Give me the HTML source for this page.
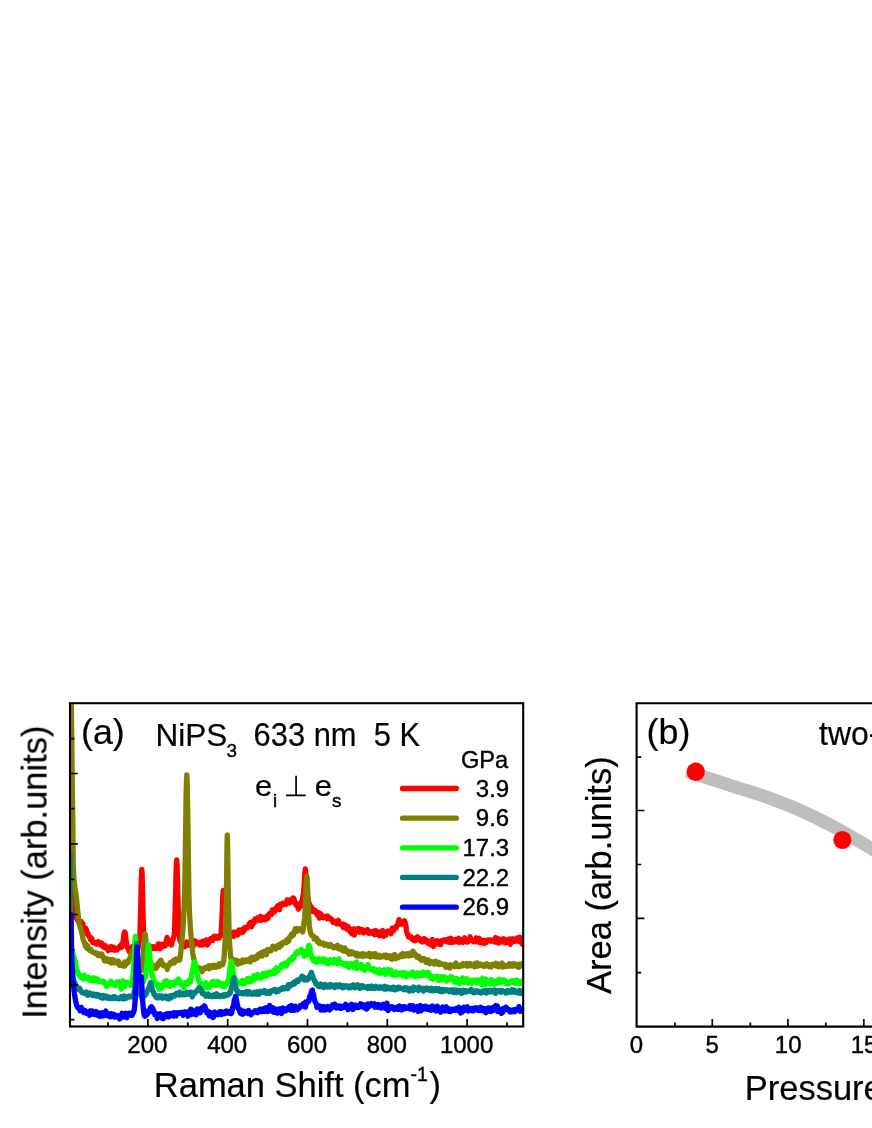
<!DOCTYPE html>
<html><head><meta charset="utf-8"><title>Raman</title>
<style>
html,body{margin:0;padding:0;background:#fff}
svg{display:block}
text{font-family:"Liberation Sans",sans-serif;fill:#000}
</style></head>
<body>
<svg width="872" height="1128" viewBox="0 0 872 1128">
<defs><filter id="soft" x="-5%" y="-5%" width="110%" height="110%"><feGaussianBlur stdDeviation="0.35"/></filter></defs>
<rect width="872" height="1128" fill="#fff"/>
<clipPath id="ca"><rect x="70.0" y="703.2" width="453.20000000000005" height="323.29999999999995"/></clipPath>
<g clip-path="url(#ca)"><polyline fill="none" stroke="#ff0000" stroke-width="5.3" stroke-linejoin="round" stroke-linecap="round" points="71.2,847.0 71.5,864.8 71.8,878.9 71.8,880.0 72.1,889.0 72.6,897.6 73.1,904.2 73.5,908.0 73.6,908.4 74.1,911.0 74.6,913.8 75.2,915.6 75.8,916.4 76.4,918.3 76.5,917.8 77.0,918.6 77.5,920.2 78.1,918.9 78.7,921.1 79.3,923.2 79.9,923.9 80.0,921.9 80.5,923.6 81.1,921.4 81.7,923.3 82.2,925.1 82.8,923.7 83.0,925.1 83.4,928.1 84.0,930.4 84.6,929.2 85.2,929.8 85.7,928.7 85.7,928.2 86.3,929.1 86.9,932.5 87.5,934.4 88.0,933.9 88.0,933.1 88.6,935.6 89.2,936.9 89.8,937.3 90.4,939.7 90.6,938.6 91.0,938.7 91.6,938.1 92.1,940.0 92.7,942.5 93.3,941.6 93.9,941.9 94.5,942.8 95.1,943.1 95.5,943.6 95.7,943.7 96.3,944.1 96.9,942.4 97.5,943.7 98.1,941.6 98.7,943.8 99.3,942.4 99.9,943.8 100.4,945.0 100.5,944.0 101.0,944.7 101.6,942.9 102.2,943.9 102.8,946.5 103.4,944.8 104.0,947.2 104.6,945.2 105.2,945.7 105.2,945.5 105.8,947.2 106.4,948.5 107.0,946.8 107.6,947.8 108.2,950.7 108.8,948.8 109.4,947.8 110.0,949.3 110.1,948.8 110.6,948.0 111.2,946.4 111.8,949.6 112.4,948.3 113.0,948.7 113.6,947.3 114.2,950.2 114.8,950.0 115.0,950.1 115.4,948.6 115.9,949.1 116.5,949.7 117.1,949.9 117.7,948.9 118.3,948.1 118.9,947.5 119.5,946.7 119.9,946.2 120.1,947.9 120.7,947.1 121.3,944.4 121.8,945.9 121.9,947.2 122.5,944.8 122.9,942.1 123.0,942.1 123.5,937.6 123.8,935.1 124.1,933.3 124.6,931.9 124.7,932.0 125.2,932.5 125.6,935.3 125.7,935.9 126.2,941.1 126.6,944.6 126.7,945.1 127.3,947.1 127.8,948.2 128.4,948.7 128.6,949.6 129.0,951.3 129.6,950.5 130.2,949.9 130.8,950.0 131.4,949.7 132.0,950.3 132.5,948.1 132.6,946.5 133.2,948.4 133.8,947.7 134.4,951.2 135.1,949.3 135.7,948.6 136.3,946.7 136.8,948.6 137.4,947.6 138.0,949.0 138.0,948.7 138.5,946.1 139.1,942.6 139.6,937.3 139.8,934.9 140.0,930.8 140.4,918.0 140.8,901.9 141.1,886.1 141.5,874.1 141.8,869.5 141.8,869.5 142.2,874.8 142.5,887.4 142.8,903.7 143.2,919.7 143.6,931.8 143.8,935.0 144.0,937.2 144.6,941.3 145.1,944.0 145.7,945.2 146.0,945.5 146.3,946.4 146.8,947.2 147.4,946.8 148.0,946.8 148.6,945.8 149.2,945.6 149.8,948.1 150.5,946.9 151.1,946.6 151.7,948.0 152.1,948.6 152.3,948.7 152.9,947.6 153.5,946.7 154.1,947.0 154.7,946.9 155.3,948.5 155.9,947.3 156.5,947.4 157.1,946.6 157.7,948.2 158.3,943.9 158.9,946.3 159.5,947.3 160.1,944.7 160.2,948.7 160.7,946.3 161.3,945.7 161.9,944.3 162.5,946.6 163.1,946.0 163.7,944.5 164.2,945.1 164.8,945.5 165.0,946.1 165.4,944.4 166.0,941.5 166.6,940.1 167.0,937.3 167.1,938.5 167.7,939.5 167.9,939.5 168.3,939.6 168.9,941.3 169.0,943.8 169.4,943.1 170.0,944.0 170.6,943.8 171.2,942.4 171.5,945.0 171.8,941.9 172.4,940.7 173.0,940.1 173.6,938.0 174.1,935.5 174.2,935.0 174.5,930.5 174.9,919.2 175.3,904.2 175.7,888.0 176.0,873.6 176.4,863.4 176.7,860.0 176.7,860.1 177.1,864.9 177.5,876.0 177.8,890.7 178.2,906.6 178.5,921.1 179.0,931.7 179.2,935.1 179.4,936.6 180.0,940.6 180.5,941.7 180.7,940.7 181.1,942.1 181.7,942.0 182.3,945.1 182.9,944.6 183.5,945.0 184.1,944.5 184.7,946.9 185.3,945.2 185.9,944.4 186.0,942.5 186.5,942.1 187.1,943.5 187.7,944.9 188.3,945.2 188.9,942.4 189.5,943.9 190.1,943.8 190.7,941.9 191.3,943.8 191.9,940.4 192.5,943.1 193.1,946.7 193.7,942.5 194.3,943.0 194.9,940.7 195.5,941.7 195.6,944.0 196.1,941.9 196.7,942.9 197.3,942.6 197.9,942.5 198.5,943.3 199.1,943.8 199.7,944.9 200.3,944.5 200.9,942.4 201.5,944.8 202.1,945.0 202.7,941.1 203.3,943.4 203.9,944.1 204.5,944.3 205.1,943.8 205.7,941.1 206.0,942.0 206.3,939.8 206.9,941.8 207.5,945.0 208.1,943.4 208.7,943.0 209.2,940.9 209.8,939.5 210.4,938.9 211.0,940.1 211.6,938.7 212.2,938.4 212.8,940.5 213.4,936.9 214.0,936.4 214.0,937.6 214.6,938.2 215.2,938.1 215.8,936.3 216.4,938.1 217.0,938.0 217.6,938.4 218.2,936.5 218.8,937.8 219.3,937.8 219.4,936.7 220.0,936.6 220.6,935.5 220.8,935.3 221.1,932.4 221.5,925.0 221.7,921.9 222.0,916.6 222.4,905.5 222.8,895.5 223.3,890.6 223.3,890.4 223.7,894.2 224.1,904.3 224.5,915.4 224.9,922.0 225.0,922.9 225.5,927.7 226.0,931.6 226.6,936.0 227.0,936.6 227.1,936.6 227.7,936.1 228.3,935.8 228.9,936.7 229.5,935.5 230.1,934.2 230.7,935.6 231.3,934.8 231.9,933.2 232.5,932.6 232.5,935.4 233.1,934.9 233.7,936.4 234.3,933.2 234.9,932.1 235.5,933.4 236.1,934.8 236.7,933.8 237.3,933.2 237.9,934.9 238.4,931.5 239.0,930.0 239.4,930.4 239.6,931.0 240.2,931.7 240.8,932.5 241.4,931.5 242.0,932.5 242.6,929.3 243.2,932.0 243.8,928.6 244.4,930.2 245.0,927.5 245.6,928.3 246.2,927.8 246.7,928.0 247.3,928.0 247.9,926.3 248.5,925.9 248.6,926.3 249.1,924.0 249.7,924.0 250.3,922.5 250.9,924.0 251.5,926.8 252.1,924.9 252.7,922.0 253.3,921.3 253.8,923.2 254.4,921.2 255.0,919.0 255.6,919.1 256.2,918.8 256.7,918.6 256.8,920.8 257.4,920.1 258.0,917.6 258.6,918.3 259.2,917.4 259.8,917.0 260.4,916.4 261.0,920.5 261.6,918.3 262.2,918.8 262.8,919.2 263.4,917.4 264.0,918.1 264.6,918.1 265.1,917.5 265.7,919.8 266.3,917.5 266.9,916.1 267.5,916.9 268.0,918.3 268.1,917.5 268.7,915.0 269.3,913.8 269.9,913.2 270.5,913.0 271.1,914.0 271.7,914.3 272.3,909.9 272.8,911.5 273.4,910.1 274.0,911.6 274.6,911.8 275.2,909.1 275.8,908.6 276.4,907.5 277.0,908.6 277.6,905.8 278.2,905.5 278.7,905.7 279.3,908.0 279.5,909.9 279.9,906.7 280.5,904.1 281.1,905.2 281.7,903.9 282.3,905.2 282.9,903.1 283.5,903.4 284.1,903.7 284.7,904.2 285.3,903.2 285.9,904.6 286.5,903.1 287.1,899.9 287.6,902.9 288.2,901.6 288.8,900.6 289.4,903.1 290.0,900.0 290.6,900.6 291.0,899.7 291.2,902.2 291.8,900.0 292.4,900.1 293.0,897.9 293.6,901.1 293.9,898.4 294.2,900.5 294.8,901.8 295.4,903.0 295.9,905.0 296.5,903.3 297.1,905.9 297.7,907.1 298.2,908.0 298.5,909.0 298.8,907.8 299.4,906.0 300.0,905.8 300.6,906.5 301.2,902.6 301.7,901.7 302.0,900.4 302.3,900.5 302.8,896.7 303.4,893.4 303.8,890.0 303.9,889.3 304.3,882.2 304.8,873.6 305.3,868.9 305.3,869.2 305.7,872.4 306.2,880.5 306.7,888.4 306.8,890.0 307.2,893.2 307.7,896.1 308.2,899.9 308.8,902.2 309.0,903.5 309.4,903.8 309.9,906.3 310.5,907.5 311.1,906.5 311.7,910.0 311.8,909.3 312.3,910.2 312.8,911.6 313.4,909.4 314.0,910.5 314.6,910.2 315.2,910.3 315.8,912.2 316.4,913.0 317.0,914.7 317.6,915.3 318.2,913.8 318.8,912.7 319.4,918.2 319.8,918.0 320.0,914.9 320.5,913.6 321.1,914.4 321.7,915.8 322.3,917.4 322.9,917.7 323.5,917.2 324.1,916.5 324.7,917.2 325.3,916.9 325.9,917.6 326.5,917.7 327.1,918.8 327.7,916.0 328.3,917.8 328.9,918.5 329.5,917.7 330.1,919.0 330.6,918.4 331.2,919.0 331.4,919.7 331.8,920.0 332.4,919.9 333.0,922.4 333.6,921.9 334.2,922.1 334.8,922.3 335.4,921.4 336.0,921.2 336.6,923.8 337.2,922.9 337.8,921.1 338.4,920.4 339.0,923.9 339.6,923.5 340.2,924.4 340.7,924.2 341.3,924.6 341.9,925.2 342.5,924.1 342.9,925.7 343.1,927.4 343.7,927.5 344.3,924.5 344.9,924.8 345.5,925.2 346.1,927.0 346.7,929.0 347.3,928.9 347.9,926.3 348.5,928.5 349.1,930.2 349.7,929.0 350.3,932.1 350.9,929.5 351.4,931.5 352.0,933.7 352.6,929.2 353.2,929.8 353.8,931.3 354.4,935.1 354.4,928.9 355.0,930.9 355.6,931.1 356.2,930.0 356.8,929.2 357.4,929.5 358.0,929.8 358.6,928.5 359.2,932.2 359.8,929.2 360.0,929.5 360.4,929.3 361.0,929.6 361.6,930.4 362.2,929.5 362.8,930.1 363.4,933.0 364.0,932.7 364.6,930.8 365.2,932.3 365.8,930.4 366.4,931.5 367.0,929.6 367.6,929.7 368.2,930.3 368.8,933.3 369.2,932.5 369.4,932.7 370.0,932.3 370.6,932.6 371.2,932.8 371.8,933.3 372.4,932.6 373.0,931.1 373.6,931.1 374.2,933.9 374.8,934.7 375.4,933.6 376.0,930.5 376.6,934.4 377.2,933.5 377.8,932.7 378.3,932.8 378.4,932.3 379.0,935.2 379.6,935.7 380.2,932.0 380.8,932.7 381.4,933.7 382.0,935.2 382.6,930.5 383.2,934.3 383.8,936.2 384.4,933.7 385.0,933.6 385.6,935.5 385.7,934.6 386.2,932.0 386.7,931.7 387.3,931.8 387.9,931.0 388.5,932.5 389.1,931.8 389.7,932.1 390.3,932.7 390.9,933.8 391.5,931.6 392.1,928.1 392.1,931.9 392.7,930.2 393.3,931.0 393.9,928.7 394.4,928.7 395.0,927.7 395.6,927.1 396.2,928.1 396.7,925.4 396.8,925.9 397.4,925.4 398.0,923.8 398.5,920.8 398.6,923.7 399.1,919.7 399.7,920.5 400.3,922.0 400.5,923.4 400.9,924.2 401.5,924.2 402.1,923.8 402.7,922.4 403.3,924.3 403.5,922.7 403.9,924.3 404.5,920.8 405.1,922.4 405.3,923.3 405.7,925.4 406.2,927.3 406.4,930.3 406.8,932.1 407.3,934.0 407.9,934.2 408.5,937.0 408.5,935.1 409.1,937.0 409.7,936.4 410.2,936.6 410.8,936.7 411.4,937.1 412.0,938.9 412.6,939.8 413.2,940.0 413.8,939.5 414.4,939.2 415.0,939.0 415.0,940.8 415.6,938.3 416.2,937.7 416.8,938.8 417.4,936.8 418.0,938.5 418.6,939.3 419.2,938.2 419.8,938.8 420.4,940.8 421.0,940.0 421.6,940.3 422.2,941.9 422.8,940.0 423.4,939.1 424.0,940.6 424.2,941.5 424.6,938.7 425.2,941.7 425.8,941.1 426.4,940.9 427.0,940.5 427.6,941.5 428.2,943.4 428.8,943.2 429.3,943.6 429.9,942.2 430.5,944.8 431.1,944.9 431.7,943.2 432.3,939.4 432.9,942.4 433.4,946.7 433.5,943.6 434.1,941.6 434.7,945.0 435.3,942.4 435.9,943.3 436.5,943.8 437.1,940.7 437.7,942.2 438.3,944.0 438.9,942.0 439.5,942.9 440.0,942.1 440.1,943.4 440.7,944.6 441.3,940.7 441.9,940.9 442.5,941.9 443.1,940.5 443.7,939.9 444.3,940.3 444.9,940.4 445.5,939.8 446.1,940.9 446.7,941.7 447.3,941.7 447.9,941.5 448.5,942.2 448.6,938.8 449.1,939.9 449.7,940.6 450.3,941.2 450.9,938.3 451.5,942.6 452.1,939.6 452.7,940.5 453.3,941.5 453.9,942.1 454.5,939.7 455.1,939.5 455.7,940.8 456.3,941.3 456.9,941.8 457.5,940.5 458.1,939.4 458.7,938.4 459.3,942.5 459.9,939.0 460.5,941.0 461.1,940.9 461.7,941.5 462.3,941.9 462.9,942.5 463.5,940.6 464.1,940.9 464.7,937.8 465.3,940.0 465.9,939.2 466.5,940.0 467.1,942.1 467.7,940.8 468.0,941.9 468.3,940.4 468.9,940.9 469.5,939.9 470.1,936.8 470.7,938.8 471.3,939.9 471.9,940.6 472.5,940.4 473.1,940.2 473.7,941.7 474.3,941.5 474.9,940.0 475.5,941.5 476.1,937.9 476.7,939.5 477.3,940.1 477.9,942.1 478.5,940.0 479.1,938.3 479.7,940.3 480.3,942.8 480.9,940.5 481.5,940.2 482.1,940.1 482.7,940.4 483.3,942.2 483.9,943.4 484.5,941.5 485.1,940.4 485.7,942.9 486.3,941.0 486.9,940.5 487.5,940.0 488.1,939.9 488.7,940.7 489.3,940.1 489.9,940.9 490.5,940.6 491.1,941.2 491.7,940.0 492.3,940.1 492.9,940.7 493.5,940.6 494.1,940.6 494.7,942.0 495.3,939.2 495.6,937.5 495.9,940.9 496.5,940.3 497.1,942.2 497.7,940.6 498.3,938.8 498.9,943.1 499.5,941.5 500.1,939.9 500.7,939.3 501.3,941.0 501.9,939.6 502.5,940.8 503.1,942.1 503.7,938.8 504.3,939.6 504.9,941.0 505.5,942.8 506.1,942.1 506.7,940.0 507.3,942.3 507.9,940.3 508.5,940.1 509.1,940.9 509.7,939.0 510.3,944.3 510.9,942.8 511.5,941.0 512.1,939.7 512.7,938.7 513.3,940.6 513.9,941.4 514.5,940.0 515.1,940.1 515.7,941.1 516.3,940.5 516.9,937.9 517.5,940.9 518.1,940.9 518.7,941.5 519.3,939.6 519.9,937.3 520.5,938.2 521.1,940.5 521.7,943.3 522.3,944.1 522.9,941.4 523.5,938.5 524.0,939.6"/>
<polyline fill="none" stroke="#808000" stroke-width="5.3" stroke-linejoin="round" stroke-linecap="round" points="71.2,690.0 71.4,709.4 71.6,728.6 71.9,747.5 72.0,760.0 72.1,766.2 72.3,784.6 72.5,802.8 72.8,820.9 72.9,830.0 73.0,839.8 73.2,859.6 73.4,868.0 73.5,871.7 74.0,878.9 74.4,883.0 74.5,884.2 75.0,888.2 75.6,891.7 76.1,895.3 76.2,896.1 76.6,899.6 77.1,904.4 77.6,909.4 78.1,914.4 78.6,919.1 79.1,922.7 79.5,925.1 79.7,926.2 80.2,926.7 80.8,929.1 80.9,929.2 81.4,931.1 81.9,933.9 82.5,936.2 83.0,938.9 83.6,940.9 83.8,941.6 84.2,941.8 84.7,943.4 85.3,946.1 85.7,943.9 85.9,947.1 86.5,946.4 87.0,948.3 87.6,945.6 88.2,947.5 88.8,949.5 89.4,949.5 90.0,950.6 90.6,949.4 90.6,949.4 91.2,949.9 91.8,951.4 92.4,952.1 93.0,952.0 93.6,952.2 94.1,952.5 94.7,953.2 95.3,952.5 95.5,953.3 95.9,953.5 96.5,953.2 97.1,953.2 97.7,955.3 98.3,953.7 98.9,954.4 99.5,955.7 100.1,955.4 100.4,954.6 100.7,955.6 101.3,953.9 101.9,954.3 102.5,955.8 103.1,956.9 103.6,957.8 104.2,960.3 104.8,961.0 105.2,959.5 105.4,959.6 106.0,958.8 106.6,960.0 107.2,958.8 107.8,961.4 108.4,960.1 109.0,961.0 109.6,959.5 110.1,961.9 110.2,961.7 110.8,963.0 111.4,961.5 112.0,959.6 112.6,960.2 113.2,960.0 113.8,962.8 114.4,961.3 115.0,961.0 115.0,962.2 115.6,962.4 116.2,962.8 116.7,962.2 117.3,960.9 117.9,961.6 118.5,961.3 119.1,964.8 119.7,965.2 119.9,964.0 120.3,964.9 120.9,965.3 121.5,965.4 122.1,965.5 122.7,965.9 123.3,965.3 123.9,963.0 124.5,962.1 124.7,966.0 125.1,965.9 125.7,962.6 126.3,964.2 126.9,963.2 127.5,962.7 127.7,960.8 128.0,962.7 128.6,961.0 129.2,959.7 129.6,958.7 129.7,958.5 130.3,957.2 130.9,954.8 131.5,953.3 131.5,952.5 132.0,952.4 132.6,951.1 133.0,949.9 133.2,951.9 133.8,952.3 134.4,950.1 134.9,951.4 135.5,954.2 136.1,955.0 136.7,958.1 137.0,958.3 137.3,959.0 137.8,960.8 138.4,962.9 139.0,963.8 139.6,966.1 140.2,967.6 140.7,969.3 141.3,969.9 141.7,970.4 141.8,969.8 142.3,966.2 142.8,960.5 143.3,954.9 143.3,954.6 143.8,947.8 144.3,939.9 144.8,934.5 145.0,933.9 145.3,934.8 145.8,939.6 146.3,945.7 146.6,949.0 146.8,950.4 147.3,955.4 147.8,959.1 148.4,961.9 148.5,962.5 148.9,962.8 149.5,964.0 150.1,964.3 150.7,964.5 151.3,965.2 151.9,966.3 152.5,965.1 153.0,965.4 153.1,965.6 153.7,966.2 154.3,968.2 154.9,967.6 155.5,967.3 155.9,967.7 156.0,968.6 156.6,966.6 157.2,967.1 157.8,963.3 158.4,963.1 158.5,965.1 159.0,964.8 159.6,962.5 160.1,960.7 160.7,961.1 161.0,960.1 161.3,961.8 161.9,962.8 162.4,963.9 163.0,963.8 163.5,965.8 163.6,965.0 164.2,965.1 164.8,965.2 165.4,965.6 166.0,966.4 166.6,967.0 167.0,967.0 167.2,969.5 167.8,966.1 168.4,966.6 169.0,964.6 169.6,964.2 170.1,962.8 170.7,964.1 171.3,963.0 171.9,962.1 172.5,961.3 173.1,961.8 173.7,960.3 173.8,960.9 174.3,963.0 174.9,960.6 175.5,959.6 176.1,959.1 176.7,960.7 177.3,960.3 177.9,959.2 178.5,958.9 179.1,959.5 179.5,958.8 179.6,960.2 180.2,957.1 180.7,953.0 181.2,948.0 181.7,942.5 181.8,941.8 182.2,937.4 182.7,931.4 183.2,924.6 183.6,917.1 184.0,908.7 184.1,907.5 184.4,898.2 184.5,896.0 184.8,884.3 185.1,866.4 185.4,846.3 185.7,825.7 185.9,806.5 186.2,790.5 186.5,779.4 186.8,775.0 186.8,775.0 187.1,778.7 187.3,789.3 187.6,805.0 187.9,824.2 188.2,845.0 188.5,865.6 188.8,884.4 189.0,896.0 189.1,899.6 189.3,907.5 189.4,911.0 189.9,919.5 190.3,926.9 190.8,933.3 191.3,939.0 191.6,942.0 191.8,944.0 192.3,948.8 192.8,953.1 193.3,956.6 193.9,959.4 194.0,959.5 194.4,961.4 195.0,963.7 195.6,965.3 196.2,966.7 196.7,966.8 197.0,968.3 197.3,967.1 197.9,968.4 198.5,968.7 199.1,967.8 199.7,967.8 200.3,969.3 200.9,968.8 201.5,968.9 202.1,971.7 202.7,969.6 203.3,968.7 203.9,969.1 204.5,967.9 205.1,968.0 205.7,968.5 206.3,967.3 206.9,967.7 207.5,967.6 208.1,967.7 208.7,965.8 209.3,968.8 209.9,967.5 210.5,967.7 211.1,966.1 211.7,965.5 211.8,966.7 212.3,966.5 212.9,967.3 213.5,965.8 214.1,965.4 214.7,966.5 215.3,967.0 215.9,967.2 216.4,966.1 217.0,966.1 217.6,965.0 218.2,966.7 218.8,966.7 219.4,966.5 219.8,963.7 220.0,965.6 220.6,964.2 221.2,964.9 221.9,964.7 222.5,964.9 223.0,963.2 223.3,962.7 223.5,961.8 224.1,957.3 224.5,950.5 225.0,942.4 225.0,942.0 225.4,932.9 225.7,920.6 226.1,906.7 226.3,896.0 226.4,892.2 226.7,872.1 226.9,850.9 227.2,836.8 227.3,835.0 227.4,837.6 227.7,852.6 228.0,874.0 228.3,893.7 228.3,896.0 228.6,908.7 228.9,923.5 229.2,936.0 229.5,942.0 229.6,944.1 230.1,950.3 230.6,955.7 231.2,959.3 231.5,960.7 231.7,960.7 232.3,959.3 232.8,960.5 233.4,962.0 234.0,959.7 234.6,960.7 235.3,962.5 235.9,962.3 236.5,960.3 237.1,961.4 237.1,962.2 237.7,964.3 238.3,962.1 238.9,961.2 239.5,962.1 240.1,962.3 240.7,962.5 241.3,963.2 241.9,961.7 242.5,960.1 243.1,961.0 243.7,961.1 244.3,961.8 244.8,961.7 245.4,959.9 246.0,960.9 246.6,961.2 247.2,959.9 247.8,960.6 248.4,959.8 248.6,959.7 249.0,959.2 249.6,959.9 250.2,961.9 250.8,959.4 251.4,957.4 252.0,957.9 252.6,957.5 253.2,958.1 253.8,957.5 254.4,959.8 255.0,958.3 255.6,958.8 256.2,956.3 256.8,956.0 257.4,958.1 258.0,954.6 258.6,955.4 259.1,953.9 259.7,956.3 260.2,953.8 260.3,954.3 260.9,954.3 261.5,952.6 262.1,956.1 262.7,953.9 263.3,955.0 263.9,952.7 264.5,951.3 265.1,952.5 265.7,952.4 266.3,954.7 266.9,951.1 267.5,949.6 268.0,950.1 268.1,951.2 268.7,951.3 269.2,949.8 269.8,949.7 270.4,950.4 271.0,950.8 271.6,949.0 272.2,949.2 272.8,946.2 273.4,947.2 274.0,948.6 274.6,948.1 275.2,947.6 275.8,949.0 276.4,947.2 277.0,945.8 277.6,946.6 278.2,946.5 278.8,944.9 279.4,946.4 279.5,947.3 279.9,945.0 280.5,944.0 281.1,944.3 281.7,945.3 282.3,943.3 282.9,942.4 283.5,942.1 284.1,942.4 284.7,942.1 285.3,941.2 285.9,942.0 286.4,942.7 287.0,939.7 287.6,940.2 288.2,939.2 288.8,941.1 289.4,937.4 290.0,936.8 290.6,936.8 291.0,935.0 291.2,935.8 291.8,936.2 292.3,933.7 292.9,934.0 293.5,935.0 294.1,932.4 294.7,931.0 295.3,928.7 295.9,930.0 296.5,928.5 297.0,930.0 297.6,931.2 298.0,930.3 298.2,928.8 298.8,930.0 299.4,929.4 300.0,928.8 300.7,929.5 301.3,930.5 301.8,930.2 302.4,931.0 302.6,932.0 303.0,930.4 303.5,927.4 304.0,922.7 304.6,917.8 304.8,915.0 305.0,911.9 305.5,902.0 305.9,890.7 306.3,881.0 306.7,876.3 306.8,876.3 307.2,879.4 307.6,888.9 308.0,900.7 308.4,911.6 308.6,915.0 308.9,919.0 309.3,925.5 309.9,929.7 310.0,930.4 310.4,931.5 310.9,933.7 311.5,935.3 312.1,935.2 312.7,935.7 313.3,935.8 313.9,937.6 314.0,939.1 314.5,938.6 315.1,937.9 315.7,938.1 316.2,938.7 316.8,938.2 317.4,941.7 318.0,941.1 318.6,940.8 319.2,943.5 319.8,942.4 320.4,943.6 321.0,942.9 321.6,943.8 322.2,943.2 322.8,942.9 323.4,943.8 324.0,944.5 324.6,945.2 325.2,944.6 325.6,944.2 325.8,944.1 326.3,944.9 326.9,944.5 327.5,944.7 328.1,945.8 328.7,946.2 329.3,946.3 329.9,945.2 330.5,944.5 331.1,946.2 331.7,946.5 332.3,946.2 332.9,946.8 333.5,947.7 334.1,946.9 334.7,947.5 335.3,946.4 335.9,947.1 336.5,946.8 337.1,946.3 337.1,948.0 337.7,945.3 338.3,947.6 338.9,949.1 339.5,949.0 340.1,947.3 340.7,948.8 341.3,947.3 341.9,948.1 342.5,950.7 343.1,950.0 343.6,951.0 344.2,949.1 344.8,947.9 345.4,949.2 346.0,951.6 346.6,951.8 347.2,952.1 347.8,951.1 348.4,951.1 348.6,951.1 349.0,954.2 349.6,952.2 350.2,953.6 350.8,952.2 351.4,953.7 352.0,951.8 352.6,952.2 353.2,953.4 353.8,952.9 354.4,953.1 355.0,953.6 355.6,953.5 356.2,955.7 356.8,955.8 357.4,953.4 358.0,956.1 358.6,955.1 359.1,954.8 359.7,954.7 360.0,955.7 360.3,955.8 360.9,954.5 361.5,954.9 362.1,953.7 362.7,956.5 363.3,954.4 363.9,953.9 364.5,954.1 365.1,954.9 365.7,955.7 366.3,954.7 366.9,954.9 367.5,954.6 368.1,956.1 368.7,955.4 369.2,953.3 369.3,956.1 369.9,955.5 370.5,956.9 371.1,954.8 371.7,954.6 372.3,955.0 372.9,953.9 373.5,954.9 374.1,956.7 374.7,956.6 375.3,953.6 375.9,956.8 376.5,956.6 377.1,957.0 377.7,956.4 378.3,956.4 378.3,956.3 378.9,956.3 379.5,955.3 380.1,957.2 380.7,956.8 381.3,956.9 381.9,956.9 382.5,956.3 383.1,956.4 383.7,955.2 384.3,956.6 384.9,956.9 385.5,956.5 386.1,954.9 386.7,957.7 387.3,956.8 387.5,956.7 387.9,956.5 388.5,956.2 389.1,956.3 389.7,955.7 390.3,956.2 390.9,958.9 391.5,958.5 392.1,959.2 392.7,956.8 393.3,955.2 393.9,955.5 394.5,954.4 395.1,957.8 395.7,958.6 396.3,957.6 396.7,957.6 396.9,957.7 397.5,957.2 398.1,957.8 398.7,956.2 399.3,956.3 399.9,956.6 400.5,954.9 401.1,955.2 401.7,956.5 402.3,956.5 402.9,953.5 403.5,956.1 404.1,956.0 404.7,956.1 405.3,955.2 405.9,955.5 405.9,953.8 406.5,954.4 407.0,953.6 407.6,953.8 408.2,955.3 408.8,955.9 409.4,954.2 410.0,953.3 410.6,954.3 411.2,954.0 411.8,955.3 412.4,954.2 413.0,951.1 413.2,952.9 413.6,953.0 414.2,952.8 414.8,954.0 415.4,954.6 416.0,954.8 416.6,957.0 416.9,956.4 417.2,956.5 417.8,956.6 418.3,957.9 418.9,956.3 419.5,958.5 420.1,957.8 420.7,959.6 421.3,960.2 421.9,959.6 422.5,958.8 423.1,959.7 423.7,960.1 424.2,958.6 424.3,959.4 424.9,959.5 425.5,961.6 426.1,962.5 426.7,960.4 427.3,960.4 427.9,959.9 428.5,961.5 429.1,962.4 429.6,963.7 430.2,961.0 430.8,962.8 431.4,962.3 432.0,961.7 432.6,962.1 433.2,961.9 433.4,963.0 433.8,962.9 434.4,964.1 435.0,962.8 435.6,961.3 436.2,962.0 436.8,963.6 437.4,962.2 438.0,962.7 438.6,964.2 439.2,962.6 439.8,964.6 440.0,964.5 440.4,963.6 441.0,964.1 441.6,963.9 442.2,964.1 442.8,964.3 443.4,964.8 444.0,964.9 444.6,964.4 445.2,964.2 445.8,967.3 446.4,964.9 447.0,965.4 447.6,967.0 448.2,967.1 448.8,965.4 449.4,967.8 450.0,968.1 450.0,966.0 450.6,964.8 451.2,966.4 451.8,965.9 452.4,965.7 453.0,965.1 453.6,965.2 454.2,965.9 454.8,966.7 455.4,963.9 456.0,963.1 456.6,966.2 457.2,965.0 457.8,966.1 458.3,965.8 458.9,966.7 459.5,966.5 460.1,965.3 460.7,965.1 461.3,965.6 461.9,966.0 462.5,964.7 463.1,963.6 463.7,965.0 464.3,965.1 464.9,964.9 465.5,964.0 466.1,965.4 466.7,963.4 466.8,964.3 467.3,966.2 467.9,964.2 468.5,965.2 469.1,965.5 469.7,965.5 470.3,963.5 470.9,965.7 471.5,965.4 472.1,965.6 472.7,965.4 473.3,965.2 473.9,966.3 474.5,966.7 475.1,963.5 475.7,964.0 476.3,964.8 476.9,962.9 477.5,966.2 478.1,964.6 478.7,965.5 479.3,965.4 479.9,964.9 480.5,964.1 481.1,964.6 481.7,965.2 482.3,965.9 482.9,965.1 483.5,964.7 484.1,964.9 484.7,966.4 485.3,965.7 485.9,964.6 486.5,963.8 487.1,964.6 487.7,964.2 488.3,964.6 488.9,966.5 489.5,966.1 490.1,965.6 490.7,965.7 491.3,967.0 491.9,964.4 492.5,965.5 493.1,965.1 493.7,965.3 494.3,965.3 494.9,964.9 495.5,965.7 495.6,963.2 496.1,965.1 496.7,966.0 497.3,964.4 497.9,964.1 498.5,966.9 499.1,964.7 499.7,964.7 500.3,964.4 500.9,964.5 501.5,964.5 502.1,963.1 502.7,967.2 503.3,964.9 503.9,965.5 504.5,965.2 505.1,966.5 505.7,966.1 506.3,966.4 506.9,966.5 507.5,966.2 508.1,965.4 508.7,966.1 509.3,963.8 509.9,965.8 510.5,966.0 511.1,965.6 511.7,963.9 512.3,966.2 512.9,964.7 513.5,965.6 514.1,963.5 514.7,964.7 515.3,964.5 515.9,964.3 516.5,964.3 517.1,966.7 517.7,965.4 518.3,965.4 518.9,967.2 519.5,964.1 520.1,966.3 520.7,965.0 521.3,964.4 521.9,964.6 522.5,963.2 523.1,963.2 523.7,963.7 524.0,964.3"/>
<polyline fill="none" stroke="#00ff00" stroke-width="5.3" stroke-linejoin="round" stroke-linecap="round" points="70.3,900.0 70.5,923.2 70.7,938.7 70.8,940.0 71.1,944.5 71.7,948.2 72.3,951.0 72.5,952.0 72.8,953.5 73.4,955.5 74.0,957.3 74.5,959.1 74.9,960.5 75.1,961.1 75.6,963.5 76.2,966.7 76.7,969.1 77.2,970.6 77.3,971.0 77.8,971.9 78.4,974.0 79.0,975.3 79.6,974.7 80.2,976.5 80.7,975.5 80.8,977.3 81.4,977.8 82.0,977.2 82.5,978.4 83.1,978.9 83.7,978.3 84.3,975.4 84.9,977.5 85.3,978.1 85.5,978.9 86.1,977.0 86.7,978.9 87.3,978.9 87.9,979.1 88.5,977.2 89.1,977.4 89.7,980.2 90.3,980.4 90.9,979.3 91.5,980.7 92.1,980.1 92.7,979.2 93.3,977.7 93.9,980.9 94.5,980.2 95.1,980.5 95.7,978.2 96.3,979.5 96.8,981.0 96.9,980.5 97.5,979.9 98.1,979.5 98.7,981.3 99.3,981.0 99.9,981.1 100.5,981.4 101.1,981.2 101.7,981.7 102.3,981.6 102.9,982.6 103.4,981.2 104.0,981.4 104.6,983.1 105.2,983.3 105.8,983.8 106.4,986.4 107.0,985.4 107.6,985.7 108.2,985.1 108.8,984.3 109.4,983.5 110.0,982.1 110.6,982.4 111.2,981.4 111.8,982.8 111.8,982.4 112.4,983.1 113.0,984.4 113.6,984.0 114.2,985.4 114.8,985.5 115.4,985.5 115.5,985.3 116.0,984.1 116.6,982.2 117.2,982.6 117.5,981.8 117.7,981.8 118.3,983.2 118.9,982.3 119.5,981.7 119.5,984.0 120.1,986.3 120.7,985.8 121.3,989.0 121.9,983.1 122.5,982.9 123.1,981.0 123.7,982.5 124.3,986.3 124.9,986.6 125.5,983.2 125.6,983.5 126.1,983.0 126.7,982.2 127.3,983.4 127.9,983.5 128.5,984.0 129.1,984.2 129.7,984.7 130.3,985.4 130.8,983.7 130.9,983.2 131.5,982.4 132.0,980.6 132.6,977.5 133.0,974.8 133.1,974.1 133.6,968.3 134.0,960.6 134.2,958.0 134.5,952.1 134.9,942.1 135.4,936.6 135.4,936.5 135.8,940.8 136.2,950.8 136.6,958.1 136.7,959.6 137.1,967.3 137.6,973.8 137.8,975.3 138.1,976.8 138.7,978.5 139.3,980.7 139.5,979.4 139.9,979.2 140.5,979.0 141.1,982.2 141.5,978.5 141.7,978.9 142.3,980.8 142.9,980.8 143.4,981.7 144.0,979.5 144.5,977.6 144.6,978.7 145.2,976.7 145.7,973.7 146.2,970.1 146.5,968.1 146.8,965.3 147.3,958.5 147.7,951.7 148.2,946.1 148.5,944.6 148.7,945.3 149.2,949.3 149.7,955.0 150.2,960.5 150.4,961.5 150.8,964.8 151.3,969.1 151.8,973.4 152.0,974.1 152.3,975.6 152.9,977.7 153.5,979.7 153.5,980.2 154.0,981.1 154.6,982.0 155.2,982.6 155.6,984.6 155.7,984.5 156.3,985.0 156.9,984.1 157.5,985.2 158.1,984.4 158.7,988.0 159.3,989.2 159.9,988.4 160.0,987.5 160.5,988.1 161.1,985.6 161.7,985.0 162.3,987.8 162.9,985.1 163.5,985.3 164.0,984.3 164.6,981.5 165.2,982.8 165.8,984.8 166.4,985.5 167.0,980.7 167.0,981.0 167.6,982.5 168.2,984.8 168.8,985.4 169.4,986.0 170.0,986.3 170.6,983.7 171.2,982.6 171.8,985.0 172.4,984.0 173.0,984.1 173.6,983.7 173.8,983.6 174.2,985.2 174.8,982.9 175.4,981.2 176.0,981.9 176.6,982.7 177.2,981.9 177.8,981.6 178.4,979.1 179.0,979.9 179.0,982.6 179.5,981.7 180.1,981.2 180.7,984.0 181.3,983.0 181.9,984.9 182.5,984.9 183.0,985.2 183.1,986.0 183.7,987.7 184.3,986.6 184.9,983.6 185.5,982.6 186.1,983.3 186.7,983.4 187.3,984.2 187.9,983.2 188.5,982.8 189.1,980.1 189.6,981.1 189.9,981.8 190.2,982.3 190.8,979.9 191.3,976.8 191.9,973.3 192.3,971.9 192.4,971.4 193.0,968.2 193.5,964.9 194.1,962.6 194.5,961.8 194.6,963.0 195.2,962.6 195.7,964.8 196.3,969.2 196.8,971.4 196.8,971.8 197.4,974.5 197.9,976.8 198.5,980.1 199.0,981.8 199.1,981.5 199.6,982.6 200.2,983.7 200.8,983.0 201.4,984.4 201.9,984.5 202.5,984.7 203.1,984.4 203.7,987.4 204.3,986.3 204.9,984.0 205.5,986.1 206.0,982.7 206.1,985.6 206.7,986.8 207.3,987.6 207.9,986.1 208.5,984.5 209.1,987.5 209.7,986.7 210.3,986.6 210.9,984.5 211.5,985.1 212.1,982.1 212.7,984.2 213.3,981.4 213.9,982.1 214.0,981.8 214.5,985.0 215.1,985.3 215.7,983.4 216.3,985.4 216.9,984.4 217.5,981.6 218.1,983.2 218.7,981.9 219.3,983.9 219.9,984.7 220.5,983.5 221.1,985.2 221.7,985.9 222.3,983.6 222.9,985.0 223.5,984.5 224.1,984.2 224.7,986.7 225.3,984.1 225.6,984.0 225.9,984.4 226.5,984.6 227.0,983.8 227.6,980.8 228.2,980.7 228.5,980.1 228.7,979.1 229.3,974.8 229.8,970.0 230.4,965.4 230.9,962.8 231.4,961.5 231.4,961.4 231.9,963.1 232.5,966.4 233.0,971.7 233.5,974.9 233.5,974.9 234.1,976.0 234.7,978.2 235.3,979.7 235.8,979.5 236.0,981.4 236.4,981.3 237.0,981.7 237.6,982.4 238.2,981.9 238.8,982.1 239.4,983.0 239.4,983.4 240.0,983.6 240.6,982.2 241.2,983.1 241.8,983.7 242.4,980.4 243.0,981.0 243.6,981.5 244.2,981.5 244.8,983.5 245.4,983.0 246.0,981.0 246.6,980.5 247.2,978.7 247.8,978.7 248.4,981.6 248.6,978.2 249.0,980.3 249.5,979.0 250.1,979.0 250.7,979.2 251.3,981.5 251.9,979.8 252.5,979.4 253.1,979.9 253.7,975.7 254.3,979.9 254.9,976.1 255.5,976.3 256.1,978.1 256.7,975.8 257.3,974.5 257.9,977.8 258.5,976.4 259.1,977.5 259.7,977.0 260.2,975.8 260.3,978.1 260.9,975.8 261.5,978.1 262.1,974.8 262.7,973.8 263.3,974.0 263.9,975.1 264.4,973.4 265.0,973.5 265.6,976.2 266.2,974.9 266.8,975.7 267.4,974.7 268.0,973.1 268.0,972.7 268.6,973.6 269.2,973.5 269.8,972.5 270.4,972.0 271.0,974.3 271.6,973.9 272.2,972.6 272.8,971.4 273.4,970.8 274.0,973.5 274.6,970.5 275.2,973.2 275.8,969.8 276.3,967.8 276.9,971.7 277.5,969.5 278.1,970.7 278.7,969.3 279.3,967.9 279.5,969.1 279.9,967.6 280.5,967.9 281.1,967.0 281.7,964.5 282.3,966.4 282.9,965.4 283.5,965.3 284.1,965.7 284.6,963.1 285.2,964.8 285.8,964.8 286.4,966.1 287.0,964.6 287.6,963.3 288.2,961.5 288.8,961.6 289.4,959.6 290.0,961.0 290.6,960.2 291.0,959.5 291.1,959.8 291.7,959.8 292.3,959.0 292.9,956.6 293.5,958.5 294.1,956.8 294.7,956.1 295.3,955.1 295.8,953.2 296.4,953.8 297.0,952.7 297.6,951.6 298.0,952.4 298.2,953.3 298.8,953.0 299.4,952.2 300.0,950.8 300.6,950.8 301.2,951.0 301.4,949.5 301.8,952.0 302.4,951.9 303.0,950.7 303.6,954.4 304.2,956.2 304.7,953.0 305.3,954.1 305.9,953.8 306.0,955.4 306.5,953.0 307.1,952.7 307.6,950.9 307.8,950.9 308.2,947.2 308.8,945.5 309.2,945.3 309.3,946.1 309.9,948.1 310.4,951.9 310.5,952.3 310.9,954.0 311.5,957.1 311.8,957.8 312.1,958.1 312.6,958.1 313.2,960.5 313.8,960.8 314.4,958.3 315.0,961.4 315.6,960.5 316.2,959.2 316.4,962.3 316.8,961.4 317.4,961.6 318.0,961.0 318.6,961.0 319.2,958.7 319.8,961.5 320.4,960.1 321.0,960.7 321.6,960.7 322.2,959.5 322.8,958.9 323.4,960.2 324.0,962.2 324.6,960.0 325.2,959.6 325.6,960.5 325.8,959.8 326.4,962.1 327.0,961.4 327.6,963.9 328.2,961.5 328.8,963.6 329.4,960.5 330.0,961.0 330.6,959.6 331.2,960.3 331.8,960.6 332.4,961.9 333.0,963.1 333.6,961.3 334.2,959.6 334.8,961.3 335.4,961.5 336.0,961.1 336.6,962.9 337.2,963.6 337.8,961.5 338.4,961.2 339.0,958.9 339.6,961.1 340.0,963.4 340.2,961.6 340.8,963.6 341.4,963.8 342.0,963.8 342.5,963.9 343.1,963.2 343.7,964.5 344.3,965.0 344.9,964.2 345.5,963.7 346.1,965.4 346.7,966.1 347.3,963.6 347.9,965.1 348.5,964.6 349.1,967.5 349.7,964.7 350.3,963.9 350.9,963.6 351.5,965.9 352.1,964.0 352.7,965.8 353.3,964.8 353.9,966.9 354.0,967.7 354.5,967.2 355.1,963.3 355.7,963.3 356.3,961.9 356.9,968.4 357.5,965.5 358.1,965.1 358.7,965.8 359.3,966.7 359.9,965.7 360.0,966.0 360.5,966.0 361.1,964.5 361.7,968.3 362.3,969.0 362.9,967.0 363.5,966.5 364.1,969.2 364.7,970.5 365.3,967.8 365.9,968.1 366.5,967.1 367.1,968.0 367.7,964.7 368.2,964.6 368.8,968.3 369.2,968.1 369.4,968.8 370.0,968.7 370.6,969.5 371.2,969.3 371.8,968.8 372.4,969.7 373.0,968.6 373.6,971.1 374.2,968.7 374.8,969.1 375.4,971.0 376.0,969.9 376.6,971.4 377.2,972.5 377.8,971.9 378.3,970.2 378.4,973.0 379.0,971.8 379.6,969.7 380.2,973.3 380.8,971.7 381.4,971.9 382.0,972.5 382.6,970.8 383.2,972.4 383.8,970.0 384.4,970.0 385.0,970.9 385.6,974.3 386.2,973.0 386.8,973.5 387.4,971.6 387.5,972.5 388.0,969.5 388.6,971.4 389.2,972.8 389.8,971.8 390.4,969.9 391.0,970.2 391.6,973.3 392.2,974.8 392.7,972.9 393.3,975.2 393.9,972.1 394.5,974.0 395.1,974.1 395.7,975.1 396.3,972.1 396.7,974.8 396.9,974.2 397.5,972.9 398.1,973.3 398.7,973.7 399.3,974.5 399.9,973.2 400.5,973.0 401.1,974.3 401.7,974.4 402.3,975.1 402.9,975.8 403.5,972.4 404.1,974.1 404.7,974.9 405.3,974.8 405.9,973.3 405.9,975.3 406.5,977.0 407.1,974.8 407.7,973.6 408.3,975.5 408.9,974.8 409.5,974.8 410.1,975.0 410.7,974.1 411.3,974.5 411.9,973.7 412.5,972.0 413.1,975.5 413.7,975.2 414.3,974.6 414.9,976.3 415.0,974.7 415.5,976.0 416.1,975.9 416.7,974.5 417.3,973.0 417.9,975.0 418.5,975.1 419.1,976.1 419.7,973.0 420.3,974.3 420.9,975.1 421.5,975.3 422.1,975.1 422.7,975.3 423.3,972.0 423.9,974.1 424.2,974.1 424.5,972.9 425.1,974.9 425.7,974.7 426.3,973.6 426.9,973.3 427.5,975.5 428.1,972.3 428.7,974.9 429.3,974.2 429.9,975.7 430.5,978.4 431.1,977.7 431.7,976.3 432.3,978.1 432.9,979.1 433.4,978.1 433.5,979.0 434.1,977.2 434.7,977.5 435.3,976.8 435.9,976.4 436.5,976.9 437.1,976.1 437.7,976.9 438.3,980.2 438.9,978.9 439.5,977.5 440.0,979.8 440.1,979.9 440.7,976.7 441.3,976.7 441.9,980.0 442.4,978.5 443.0,978.4 443.6,977.5 444.2,976.7 444.8,979.6 445.4,977.7 446.0,979.0 446.6,981.1 447.2,979.8 447.8,978.6 448.4,979.6 449.0,979.8 449.6,978.5 450.0,979.3 450.2,977.6 450.8,976.6 451.4,978.1 452.0,976.9 452.6,978.2 453.2,979.2 453.8,979.8 454.4,982.1 455.0,979.0 455.6,979.0 456.2,979.2 456.8,978.6 457.4,982.5 458.0,979.6 458.6,979.8 459.2,980.1 459.8,983.5 460.4,980.7 461.0,979.5 461.6,982.1 462.2,980.1 462.8,977.9 463.4,981.8 464.0,982.4 464.6,979.3 465.2,979.1 465.8,980.7 466.4,979.8 467.0,978.9 467.6,979.3 468.0,983.2 468.2,983.0 468.8,980.1 469.4,980.8 470.0,981.3 470.6,980.8 471.2,981.1 471.8,983.5 472.4,980.9 473.0,980.1 473.6,981.1 474.2,980.4 474.8,980.6 475.4,980.7 476.0,980.0 476.6,982.7 477.2,980.8 477.8,983.0 478.4,980.6 479.0,980.0 479.6,981.5 480.2,981.1 480.8,982.5 481.4,982.5 482.0,984.6 482.6,978.2 483.2,979.4 483.8,981.2 484.0,981.2 484.4,981.4 485.0,984.9 485.6,979.2 486.2,982.0 486.8,981.5 487.4,981.6 488.0,983.1 488.6,981.9 489.2,982.7 489.8,983.6 490.4,983.6 491.0,979.6 491.6,980.5 492.2,980.0 492.8,980.5 493.4,981.4 494.0,984.6 494.6,981.5 495.2,981.3 495.6,981.6 495.8,983.8 496.4,981.5 497.0,982.4 497.6,983.1 498.2,982.9 498.8,979.4 499.4,979.7 500.0,982.5 500.6,979.8 501.2,981.2 501.8,979.9 502.4,982.1 503.0,982.0 503.6,979.9 504.2,981.2 504.8,980.5 505.4,980.9 506.0,983.4 506.6,982.6 507.2,982.4 507.8,984.0 508.4,982.4 509.0,983.7 509.6,982.8 510.2,982.4 510.8,981.6 511.4,980.8 512.0,980.4 512.6,980.5 513.2,982.5 513.8,982.6 514.4,981.0 515.0,983.4 515.6,981.4 516.2,981.3 516.8,980.1 517.4,980.6 518.0,983.0 518.6,982.8 519.2,981.3 519.8,983.5 520.4,982.2 521.0,982.1 521.6,983.4 522.2,982.9 522.8,981.7 523.4,980.6 524.0,983.5 524.0,979.3"/>
<polyline fill="none" stroke="#008080" stroke-width="5.3" stroke-linejoin="round" stroke-linecap="round" points="70.1,853.0 70.1,888.6 70.1,917.7 70.2,938.9 70.2,940.0 70.4,953.5 70.9,963.5 71.0,965.0 71.4,968.8 71.9,972.7 72.4,975.6 73.0,978.0 73.0,978.0 73.6,980.1 74.1,981.8 74.7,983.0 74.9,983.2 75.3,983.9 75.9,985.2 76.4,985.6 77.0,988.0 77.6,988.1 78.2,988.6 78.8,989.5 79.4,988.4 79.5,988.1 80.0,989.2 80.6,990.5 81.1,991.1 81.7,992.4 82.3,992.8 82.9,992.8 83.5,993.1 84.1,992.7 84.7,993.4 85.3,992.7 85.3,992.4 85.9,993.7 86.5,991.9 87.1,994.3 87.7,995.3 88.3,993.5 88.9,994.3 89.5,994.1 90.1,993.1 90.7,994.2 91.3,994.7 91.9,995.2 92.5,994.2 93.1,994.5 93.7,994.1 94.3,995.4 94.9,994.8 95.5,995.6 96.1,994.5 96.7,995.1 96.8,994.3 97.3,994.4 97.9,996.1 98.5,995.4 99.1,995.5 99.6,996.3 100.2,995.3 100.8,997.5 101.4,995.8 102.0,995.8 102.6,998.2 103.2,995.4 103.8,998.0 104.4,997.5 105.0,997.5 105.6,996.3 106.2,997.3 106.8,996.3 107.4,998.2 108.0,997.5 108.6,997.1 109.2,997.3 109.8,997.7 110.4,998.7 111.0,998.4 111.6,997.4 112.2,997.2 112.8,997.0 112.9,998.6 113.4,998.6 114.0,997.2 114.6,996.5 115.2,997.7 115.8,997.5 116.4,998.3 117.0,997.9 117.6,998.2 118.2,998.7 118.8,998.9 119.4,997.8 120.0,998.4 120.6,997.4 121.2,996.6 121.8,997.7 122.4,998.7 123.0,999.0 123.6,997.7 124.2,996.0 124.8,997.5 125.4,997.3 125.6,997.9 126.0,998.4 126.6,997.1 127.2,996.6 127.8,996.8 128.4,996.5 129.0,996.1 129.6,997.0 130.2,996.3 130.8,996.4 131.4,996.3 132.0,995.8 132.5,996.6 132.6,995.9 133.1,995.3 133.7,994.1 134.3,991.6 134.6,989.8 134.8,988.5 135.3,982.3 135.7,975.0 135.7,974.5 136.1,962.6 136.5,949.5 136.9,943.4 136.9,943.4 137.3,949.8 137.7,963.0 138.1,974.7 138.1,975.0 138.5,982.6 139.0,988.9 139.2,990.1 139.5,991.2 140.1,993.3 140.7,995.2 141.3,997.0 141.9,996.8 142.0,996.3 142.4,997.1 143.0,996.8 143.6,995.8 144.2,994.7 144.8,994.8 145.4,995.2 146.0,993.3 146.0,992.6 146.6,993.4 147.2,991.1 147.8,989.8 148.3,989.1 148.5,988.8 148.9,987.8 149.5,985.7 150.0,984.1 150.5,983.2 150.6,982.8 151.2,983.0 151.7,987.6 152.3,990.3 152.5,990.9 152.8,991.4 153.4,992.2 154.0,994.3 154.6,995.1 155.2,994.8 155.6,996.8 155.7,995.1 156.3,995.7 156.9,997.9 157.5,996.2 158.1,996.7 158.7,997.7 159.3,997.0 159.9,995.8 160.5,996.4 161.1,997.0 161.7,995.9 162.3,998.2 162.9,997.8 163.5,998.0 164.1,997.7 164.7,997.7 165.3,997.1 165.9,996.1 166.5,997.8 167.0,997.5 167.1,998.7 167.7,996.6 168.3,997.3 168.9,999.0 169.5,996.2 170.1,995.7 170.7,996.7 171.3,997.9 171.9,995.5 172.5,995.8 173.1,995.6 173.7,995.0 174.3,994.9 174.9,996.0 175.5,995.0 176.1,993.5 176.7,993.6 177.3,994.2 177.9,992.9 178.4,993.2 179.0,993.4 179.5,992.0 179.6,995.1 180.2,992.8 180.8,993.7 181.4,993.7 182.0,993.3 182.6,994.8 183.2,994.1 183.8,993.2 184.5,994.7 185.1,994.5 185.7,993.1 186.3,992.4 186.9,994.4 187.5,993.9 188.1,992.6 188.7,994.1 189.3,992.7 189.9,993.1 190.5,993.1 191.1,992.1 191.7,994.2 192.3,997.0 192.8,994.9 193.3,994.3 193.4,993.7 194.0,993.5 194.6,993.3 195.2,993.0 195.8,991.4 196.4,991.0 196.5,990.7 197.0,990.8 197.6,990.4 198.2,989.7 198.7,987.9 199.3,987.5 199.3,988.4 199.9,988.2 200.5,989.1 201.1,990.8 201.7,991.8 202.0,993.0 202.2,991.4 202.8,993.5 203.4,993.2 204.0,994.4 204.6,993.4 205.2,994.4 205.8,994.4 206.0,996.4 206.4,994.5 207.0,995.9 207.6,994.6 208.2,994.1 208.8,995.3 209.4,996.2 210.0,995.4 210.6,995.9 211.2,995.7 211.8,995.4 212.4,996.7 213.0,995.7 213.6,996.3 214.2,994.7 214.8,995.3 215.4,996.4 216.0,995.4 216.6,993.8 217.2,996.0 217.8,996.3 218.4,995.5 219.0,995.7 219.6,995.4 219.8,996.0 220.2,996.7 220.8,996.1 221.4,995.6 222.0,995.2 222.6,995.4 223.2,995.1 223.8,996.3 224.4,994.7 225.0,994.7 225.6,995.5 226.2,995.5 226.8,995.3 227.4,994.6 228.0,994.9 228.6,993.5 229.0,993.1 229.1,993.3 229.7,993.7 230.3,993.0 230.9,990.1 231.4,988.0 231.5,987.9 232.0,986.5 232.5,982.7 233.1,979.5 233.6,977.6 233.7,978.0 234.2,979.3 234.7,981.5 235.3,984.3 235.8,987.9 236.0,988.1 236.4,990.1 237.0,990.3 237.5,991.8 238.1,993.0 238.3,991.5 238.7,992.7 239.3,993.5 239.9,993.0 240.5,993.4 241.1,993.3 241.7,992.5 242.3,993.7 242.9,992.7 243.5,992.9 244.1,992.6 244.7,993.7 245.3,993.0 245.9,992.8 246.5,991.4 247.1,992.8 247.7,994.1 248.3,991.7 248.6,993.3 248.9,993.3 249.5,991.8 250.1,992.7 250.7,994.0 251.3,993.4 251.9,993.5 252.5,994.2 253.1,993.1 253.7,993.8 254.3,992.2 254.9,992.2 255.5,994.1 256.1,994.3 256.7,993.9 257.3,991.7 257.9,992.4 258.5,992.0 259.1,994.2 259.7,991.8 260.3,991.3 260.9,991.8 261.5,992.6 262.1,991.9 262.7,992.0 263.3,992.4 263.9,992.2 264.5,990.5 265.1,990.7 265.7,993.1 266.3,992.1 266.9,993.3 267.5,993.2 268.0,992.8 268.1,991.9 268.7,992.9 269.3,991.3 269.9,993.2 270.5,992.1 271.1,991.8 271.7,990.9 272.3,990.5 272.9,990.6 273.4,990.3 274.0,989.9 274.6,989.5 275.2,990.4 275.8,991.3 276.4,992.0 277.0,990.9 277.6,989.9 278.2,990.2 278.8,991.1 279.4,989.8 279.5,990.3 280.0,989.8 280.6,989.3 281.2,988.5 281.8,989.3 282.4,988.1 283.0,987.5 283.6,988.4 284.2,989.0 284.8,988.8 285.4,988.6 286.0,987.4 286.6,987.1 287.2,988.0 287.8,988.7 288.4,984.7 289.0,987.0 289.6,986.5 290.2,985.8 290.7,984.9 291.0,984.8 291.3,984.2 291.9,985.0 292.5,983.8 293.1,983.8 293.7,982.4 294.3,984.0 294.9,983.5 295.5,981.4 296.1,982.0 296.7,981.0 297.2,980.0 297.8,980.3 298.0,980.9 298.4,981.2 299.0,979.7 299.6,979.6 300.2,978.8 300.8,978.2 301.4,978.1 302.0,976.1 302.0,976.6 302.6,978.4 303.2,976.7 303.8,977.2 304.3,980.1 304.9,978.6 305.5,979.4 306.0,979.8 306.1,979.4 306.7,980.1 307.3,979.7 307.9,977.9 308.5,978.9 309.0,976.7 309.1,976.5 309.7,975.9 310.2,975.2 310.8,973.4 311.2,974.1 311.4,972.5 312.0,974.4 312.6,975.8 313.1,977.3 313.2,977.9 313.7,979.3 314.3,980.1 314.9,981.8 315.2,981.3 315.4,982.2 316.0,984.1 316.6,983.8 317.2,984.5 317.8,985.3 318.4,986.5 319.0,986.6 319.6,986.3 319.8,985.5 320.2,986.4 320.8,984.0 321.4,986.3 322.0,985.8 322.5,986.8 323.1,986.4 323.7,987.4 324.3,985.9 324.9,984.5 325.5,986.0 326.1,985.8 326.7,986.0 327.3,987.1 327.9,985.5 328.5,986.5 329.1,986.9 329.7,987.1 330.3,984.5 330.9,985.8 331.5,985.4 332.2,985.7 332.8,985.2 333.4,985.5 334.0,986.6 334.6,987.5 335.2,986.7 335.8,984.9 336.4,986.7 337.0,985.0 337.1,985.4 337.6,986.7 338.2,985.5 338.8,986.4 339.4,985.8 340.0,984.9 340.6,985.9 341.2,985.5 341.8,987.4 342.4,987.8 343.0,987.6 343.6,985.5 344.2,987.5 344.8,986.7 345.4,986.6 346.0,986.5 346.6,985.8 347.1,986.3 347.7,987.1 348.3,987.8 348.6,987.1 348.9,986.5 349.5,986.0 350.1,986.1 350.7,987.8 351.3,987.3 351.9,986.9 352.5,985.3 353.1,984.9 353.7,987.0 354.3,987.3 354.9,987.8 355.5,987.1 356.1,986.3 356.7,985.4 357.3,985.9 357.9,984.9 358.5,986.9 359.1,987.5 359.7,988.3 360.3,985.8 360.9,985.7 361.5,987.5 362.1,987.6 362.7,985.7 363.3,986.4 363.9,987.3 364.5,987.1 365.1,987.7 365.7,987.5 366.3,987.0 366.9,987.7 367.5,987.5 368.0,988.5 368.1,986.5 368.7,987.2 369.3,987.0 369.9,987.3 370.5,987.9 371.1,988.3 371.7,986.0 372.3,988.4 372.9,988.3 373.5,988.3 374.1,987.9 374.7,988.6 375.3,988.3 375.9,986.3 376.5,987.0 377.1,987.5 377.7,987.5 378.3,987.4 378.9,988.3 379.5,987.0 380.1,987.1 380.7,987.0 381.3,987.8 381.9,988.3 382.5,987.3 383.1,988.2 383.7,987.6 384.3,989.1 384.9,986.3 385.5,987.7 386.1,989.0 386.7,987.9 387.3,987.1 387.9,987.2 388.5,988.4 389.1,987.7 389.7,988.9 390.3,988.3 390.9,987.7 391.0,987.7 391.5,988.5 392.1,989.1 392.7,987.7 393.3,987.1 393.9,987.1 394.5,988.5 395.1,989.9 395.7,988.1 396.3,988.8 396.9,988.1 397.5,989.0 398.1,987.2 398.7,988.6 399.3,987.3 399.9,987.4 400.5,988.5 401.1,988.2 401.7,988.3 402.3,988.8 402.9,988.7 403.5,989.7 404.1,989.3 404.7,987.8 405.3,988.3 405.9,988.0 406.5,988.1 407.1,990.0 407.7,988.1 408.3,989.5 408.9,990.0 409.5,991.1 410.1,989.0 410.7,988.8 411.3,988.9 411.9,988.4 412.5,990.1 413.1,990.6 413.7,987.0 414.0,988.1 414.3,989.7 414.9,988.0 415.5,988.0 416.1,988.7 416.7,988.8 417.3,988.6 417.9,988.7 418.5,990.4 419.1,987.2 419.7,988.1 420.3,987.9 420.9,989.0 421.5,988.6 422.1,989.4 422.7,989.1 423.3,991.1 423.9,988.3 424.5,988.5 425.1,989.9 425.7,989.0 426.3,989.3 426.9,988.0 427.5,989.7 428.1,989.4 428.7,989.9 429.3,988.7 429.9,988.8 430.5,988.7 431.1,990.8 431.7,988.3 432.3,989.7 432.9,989.9 433.5,990.8 434.1,990.1 434.7,988.9 435.3,990.0 435.9,988.4 436.5,990.5 437.0,989.9 437.1,989.2 437.7,989.4 438.3,990.4 438.9,988.6 439.5,991.2 440.1,989.7 440.7,991.3 441.3,990.5 441.9,991.8 442.5,989.4 443.1,990.8 443.7,990.4 444.3,989.8 444.9,991.0 445.5,990.3 446.1,989.8 446.7,990.2 447.3,989.9 447.9,990.3 448.5,990.6 449.1,991.6 449.7,990.8 450.3,990.1 450.9,991.4 451.5,990.7 452.1,990.0 452.7,989.8 453.3,992.3 453.9,991.2 454.5,992.4 455.1,990.5 455.7,990.1 456.3,992.5 456.9,991.3 457.5,991.0 458.1,991.1 458.7,990.4 459.3,992.1 459.8,990.5 460.4,991.9 461.0,990.6 461.6,993.5 462.2,992.5 462.8,992.5 463.4,990.2 464.0,991.6 464.6,991.0 465.2,990.7 465.8,990.7 466.4,992.1 466.8,991.7 467.0,991.1 467.6,990.9 468.2,990.9 468.8,991.0 469.4,991.2 470.0,990.5 470.6,990.6 471.2,989.5 471.8,991.2 472.4,992.0 473.0,991.2 473.6,992.7 474.2,991.1 474.8,991.4 475.4,992.5 476.0,991.9 476.6,990.9 477.2,991.7 477.8,991.2 478.4,992.4 479.0,992.4 479.6,991.5 480.2,992.0 480.8,993.1 481.4,992.8 482.0,992.5 482.6,991.5 483.2,991.0 483.8,990.8 484.4,992.3 485.0,990.8 485.6,991.7 486.2,993.0 486.8,990.4 487.4,991.6 488.0,990.7 488.6,991.3 489.2,992.0 489.8,990.8 490.4,990.3 491.0,991.0 491.6,991.7 492.2,991.2 492.8,990.7 493.4,992.0 494.0,990.7 494.6,990.1 495.2,991.4 495.6,993.4 495.8,991.4 496.4,991.4 497.0,990.7 497.6,990.9 498.2,990.5 498.8,991.6 499.4,991.0 500.0,990.7 500.6,992.2 501.2,990.4 501.8,992.1 502.4,991.5 503.0,990.7 503.6,991.3 504.2,991.2 504.8,991.7 505.4,991.3 506.0,993.0 506.6,992.6 507.2,992.5 507.8,990.5 508.4,990.9 509.0,992.4 509.6,992.1 510.2,991.5 510.8,991.3 511.4,992.2 512.0,989.8 512.6,990.3 513.2,990.0 513.8,992.1 514.4,990.2 515.0,990.8 515.6,992.3 516.2,991.2 516.8,991.4 517.4,991.2 518.0,991.7 518.6,993.1 519.2,990.4 519.8,990.9 520.4,992.5 521.0,993.4 521.6,991.2 522.2,992.2 522.8,991.8 523.4,991.6 524.0,989.8"/>
<polyline fill="none" stroke="#0000ff" stroke-width="5.3" stroke-linejoin="round" stroke-linecap="round" points="71.2,915.0 71.4,936.6 71.6,950.0 71.6,952.0 72.0,962.3 72.5,970.3 72.6,972.0 72.9,977.5 73.4,983.9 73.9,989.2 74.0,990.0 74.4,993.6 75.0,997.4 75.5,1000.4 75.6,1001.0 76.0,1002.5 76.6,1005.5 77.2,1005.8 77.5,1007.0 77.8,1007.8 78.3,1008.1 78.9,1007.2 79.5,1009.5 80.0,1010.8 80.1,1010.0 80.7,1010.0 81.3,1007.4 81.9,1008.7 82.5,1010.4 83.1,1011.4 83.7,1012.5 84.0,1011.3 84.3,1011.7 84.9,1010.4 85.5,1012.5 86.1,1013.1 86.7,1012.1 87.3,1013.5 87.9,1012.2 88.5,1011.7 89.0,1012.0 89.6,1015.3 90.2,1010.9 90.8,1012.6 91.0,1012.4 91.4,1012.9 92.0,1010.9 92.6,1013.6 93.2,1014.1 93.8,1012.9 94.4,1012.5 95.0,1013.2 95.6,1014.6 96.2,1011.5 96.8,1015.0 97.4,1013.4 98.0,1014.6 98.6,1012.7 99.2,1016.1 99.8,1014.6 100.4,1016.3 101.0,1013.4 101.6,1012.9 102.2,1015.4 102.6,1015.3 102.8,1014.7 103.4,1015.9 104.0,1015.2 104.6,1014.0 105.2,1011.8 105.8,1011.0 106.4,1015.1 107.0,1015.8 107.6,1013.9 108.2,1015.6 108.8,1015.1 109.4,1015.4 110.0,1016.8 110.6,1013.7 111.2,1015.8 111.8,1016.5 112.4,1015.7 113.0,1016.0 113.6,1014.3 114.0,1015.8 114.2,1016.8 114.8,1017.1 115.4,1015.1 116.0,1016.8 116.6,1016.4 117.2,1016.8 117.8,1015.8 118.4,1016.5 119.0,1016.1 119.6,1019.0 120.2,1015.7 120.8,1017.0 121.4,1015.7 122.0,1013.3 122.6,1015.6 123.2,1017.1 123.3,1016.6 123.8,1016.5 124.4,1014.3 125.0,1015.4 125.6,1013.3 126.2,1017.2 126.8,1017.7 127.4,1014.0 128.0,1014.3 128.6,1013.2 129.2,1013.7 129.8,1014.2 130.4,1013.2 131.0,1013.9 131.4,1015.5 131.6,1014.5 132.2,1015.2 132.8,1013.6 133.4,1012.7 133.9,1010.6 134.3,1010.2 134.4,1009.1 134.9,1003.6 135.4,994.8 135.8,985.5 135.8,985.0 136.2,973.5 136.5,959.2 136.9,948.8 137.1,947.2 137.3,948.7 137.8,956.4 138.2,966.3 138.6,972.1 138.7,973.2 139.2,977.9 139.8,980.1 139.8,979.2 140.3,978.9 140.9,977.6 141.2,976.6 141.4,978.2 141.9,985.6 142.3,995.7 142.6,1000.2 142.8,1002.5 143.3,1008.2 143.8,1013.1 144.2,1015.0 144.3,1015.9 144.9,1016.3 145.5,1015.9 146.1,1013.0 146.8,1013.7 147.0,1014.7 147.4,1014.2 147.9,1010.9 148.5,1012.0 149.1,1010.8 149.5,1011.2 149.7,1011.2 150.3,1007.9 150.9,1007.2 151.4,1007.8 151.5,1006.6 152.0,1007.9 152.6,1008.2 153.2,1009.6 153.8,1012.7 154.0,1012.1 154.3,1011.7 154.9,1014.8 155.5,1013.4 156.1,1013.8 156.7,1014.4 157.3,1018.7 157.9,1016.4 157.9,1016.1 158.5,1014.6 159.1,1016.0 159.7,1016.8 160.3,1013.8 160.9,1015.5 161.5,1017.6 162.1,1018.2 162.7,1016.1 163.3,1018.6 163.9,1015.0 164.5,1016.7 165.1,1016.5 165.7,1014.2 166.3,1016.6 166.9,1014.0 167.0,1014.3 167.5,1015.2 168.1,1013.8 168.7,1016.8 169.3,1015.0 169.9,1013.5 170.5,1015.3 171.1,1015.2 171.7,1013.5 172.3,1013.9 172.9,1015.9 173.5,1016.1 174.1,1012.6 174.7,1015.4 175.3,1015.9 175.9,1016.0 176.5,1013.7 177.0,1012.8 177.6,1013.6 178.2,1012.9 178.8,1013.2 179.4,1012.7 179.5,1013.1 180.0,1012.8 180.6,1013.4 181.2,1013.6 181.8,1013.0 182.4,1012.4 183.0,1015.3 183.6,1014.8 184.2,1013.9 184.8,1011.9 185.4,1013.5 186.0,1012.8 186.6,1013.5 187.2,1013.2 187.8,1016.2 188.4,1013.3 189.0,1011.2 189.6,1013.8 190.2,1014.4 190.8,1014.6 191.0,1009.2 191.4,1010.6 192.0,1011.2 192.6,1010.1 193.2,1012.3 193.8,1013.5 194.4,1014.2 195.0,1014.1 195.6,1012.9 196.2,1014.8 196.8,1013.4 197.4,1008.9 198.0,1011.5 198.0,1011.5 198.6,1012.8 199.2,1011.6 199.8,1011.1 200.4,1012.8 201.0,1009.8 201.5,1008.0 201.6,1010.0 202.2,1010.3 202.7,1008.7 203.3,1008.1 203.9,1007.0 204.3,1005.8 204.5,1006.4 205.1,1006.6 205.7,1010.3 206.3,1010.0 206.8,1012.7 207.4,1012.0 207.5,1010.8 208.0,1012.6 208.6,1013.5 209.2,1015.7 209.8,1012.2 210.4,1014.1 211.0,1016.0 211.6,1014.8 211.8,1015.7 212.2,1015.4 212.7,1017.5 213.3,1017.4 213.9,1012.5 214.5,1012.1 215.1,1012.9 215.7,1013.8 216.0,1013.7 216.3,1013.1 216.9,1014.3 217.5,1014.8 218.1,1013.6 218.7,1012.7 219.3,1012.9 219.8,1011.7 219.9,1013.8 220.5,1014.2 221.1,1011.7 221.7,1014.5 222.3,1013.0 222.9,1013.8 223.5,1012.9 224.1,1012.4 224.7,1013.6 225.3,1011.5 225.9,1012.1 226.5,1010.9 227.1,1013.0 227.7,1012.4 228.3,1012.0 228.9,1011.7 229.5,1013.2 230.1,1012.9 230.2,1012.1 230.7,1011.5 231.3,1013.5 231.8,1012.3 232.4,1008.2 232.8,1008.8 233.0,1007.9 233.5,1004.9 234.1,1001.9 234.2,1000.1 234.6,1000.3 235.2,998.0 235.4,996.3 235.7,996.6 236.3,999.4 236.8,1001.6 236.8,1002.4 237.4,1004.9 237.9,1006.8 238.5,1008.9 238.5,1008.8 239.1,1009.8 239.6,1011.1 240.2,1013.0 240.6,1011.9 240.8,1010.0 241.4,1013.9 242.0,1011.9 242.6,1014.2 243.2,1013.0 243.8,1013.2 244.4,1011.3 245.0,1012.3 245.6,1011.8 246.2,1012.2 246.8,1013.0 247.4,1011.9 248.0,1013.4 248.6,1010.6 248.6,1010.5 249.2,1012.7 249.8,1013.1 250.4,1013.9 251.0,1014.7 251.6,1013.1 252.2,1013.2 252.8,1012.5 253.4,1012.1 254.0,1011.6 254.6,1011.7 255.2,1010.7 255.8,1011.0 256.4,1012.3 257.0,1012.0 257.6,1012.7 258.2,1010.5 258.8,1010.2 259.4,1011.2 260.0,1009.5 260.2,1009.1 260.6,1011.2 261.2,1010.2 261.8,1011.5 262.4,1010.7 263.0,1009.7 263.6,1008.7 264.2,1011.5 264.8,1010.3 265.4,1008.8 266.0,1007.7 266.6,1007.9 267.2,1009.1 267.8,1011.5 268.0,1009.0 268.4,1010.1 269.0,1010.3 269.6,1005.4 270.2,1007.4 270.8,1010.8 271.4,1007.4 272.0,1011.1 272.6,1010.4 273.2,1007.8 273.8,1012.3 274.4,1010.5 275.0,1012.4 275.6,1011.0 276.2,1009.3 276.8,1011.7 277.4,1013.1 278.0,1012.6 278.6,1009.1 279.2,1011.0 279.5,1009.0 279.8,1009.3 280.4,1012.1 281.0,1008.8 281.6,1013.5 282.2,1008.8 282.8,1008.1 283.4,1011.0 284.0,1010.1 284.6,1009.9 285.2,1008.8 285.8,1010.8 286.4,1010.4 287.0,1009.8 287.6,1008.7 288.2,1007.5 288.8,1009.3 289.4,1006.5 290.0,1008.0 290.6,1010.1 291.0,1010.4 291.1,1008.9 291.7,1005.5 292.3,1009.2 292.9,1010.3 293.5,1009.1 294.1,1010.4 294.7,1010.2 295.3,1006.2 295.9,1007.3 296.5,1007.1 297.1,1009.7 297.7,1009.3 298.3,1007.6 298.9,1007.8 299.5,1008.1 300.1,1005.8 300.3,1006.0 300.7,1006.1 301.3,1005.5 301.9,1005.3 302.5,1005.9 303.1,1003.7 303.7,1003.2 304.3,1005.6 304.9,1006.8 305.5,1007.1 306.0,1001.9 306.6,1003.5 307.2,1001.9 307.2,1002.1 307.8,1001.9 308.4,1001.7 309.0,1000.9 309.5,996.5 310.0,996.9 310.1,998.5 310.7,996.0 311.3,992.0 311.8,990.5 312.4,990.0 312.4,991.6 312.9,993.5 313.5,994.1 314.0,998.0 314.5,999.8 314.6,1000.6 315.2,1002.1 315.7,1002.8 316.3,1004.2 316.4,1004.3 316.9,1007.3 317.5,1005.2 318.0,1006.8 318.6,1005.5 319.2,1005.7 319.8,1007.2 320.4,1006.5 321.0,1010.0 321.6,1009.9 322.2,1006.5 322.8,1008.3 323.4,1010.1 324.0,1006.7 324.6,1007.2 325.2,1010.0 325.6,1007.3 325.8,1008.7 326.4,1008.1 327.0,1008.2 327.6,1006.5 328.2,1007.5 328.8,1007.1 329.4,1010.0 330.0,1008.8 330.6,1007.7 331.2,1007.3 331.8,1008.1 332.4,1004.9 333.0,1005.1 333.6,1005.2 334.2,1005.3 334.8,1004.1 335.4,1006.8 336.0,1005.9 336.6,1008.0 337.1,1006.5 337.2,1005.8 337.8,1006.9 338.4,1007.1 339.0,1006.1 339.6,1007.2 340.2,1008.3 340.8,1006.2 341.4,1008.2 342.0,1006.6 342.6,1007.8 343.2,1006.8 343.8,1006.2 344.4,1007.1 345.0,1005.3 345.6,1004.4 346.2,1006.4 346.8,1006.6 347.4,1005.3 348.0,1009.6 348.6,1008.0 348.6,1006.1 349.2,1007.5 349.8,1007.8 350.4,1006.5 351.0,1006.5 351.6,1004.3 352.2,1006.7 352.8,1009.5 353.4,1008.8 354.0,1008.4 354.6,1006.1 355.2,1005.0 355.8,1007.5 356.4,1007.2 357.0,1006.3 357.6,1005.9 358.2,1007.6 358.8,1007.4 359.4,1005.8 360.0,1005.9 360.6,1003.8 361.2,1004.1 361.8,1006.5 362.4,1005.5 363.0,1004.7 363.6,1006.1 364.2,1007.7 364.8,1005.0 365.4,1005.2 366.0,1005.4 366.6,1009.1 367.2,1007.8 367.8,1006.4 368.0,1003.9 368.4,1006.5 369.0,1006.7 369.6,1005.6 370.2,1004.7 370.8,1005.0 371.4,1003.5 372.0,1004.9 372.6,1005.2 373.2,1004.6 373.8,1005.3 374.4,1003.8 375.0,1007.2 375.6,1006.2 376.2,1004.5 376.8,1007.0 377.4,1007.2 378.0,1005.8 378.5,1004.4 379.1,1006.0 379.7,1007.1 380.3,1007.5 380.9,1008.0 381.5,1008.0 382.1,1004.9 382.7,1006.6 383.3,1004.3 383.9,1007.7 384.5,1007.7 385.1,1008.3 385.3,1007.2 385.7,1007.0 386.3,1006.3 386.9,1003.1 387.5,1006.2 388.1,1010.6 388.7,1009.6 389.3,1007.3 389.9,1007.7 390.5,1008.0 391.1,1006.7 391.7,1007.3 392.3,1008.0 392.9,1007.0 393.5,1008.1 394.1,1009.5 394.7,1009.1 395.3,1008.3 395.9,1007.6 396.5,1008.8 397.1,1007.3 397.7,1006.9 398.3,1009.5 398.9,1007.8 399.5,1006.1 400.1,1008.9 400.7,1009.2 401.3,1009.8 401.9,1008.2 402.5,1009.6 402.6,1008.2 403.1,1006.7 403.7,1007.6 404.3,1008.4 404.9,1006.7 405.5,1007.6 406.1,1008.4 406.7,1007.6 407.3,1008.1 407.9,1008.1 408.5,1007.0 409.1,1008.4 409.7,1009.0 410.3,1005.5 410.9,1006.7 411.5,1009.1 412.1,1008.9 412.7,1005.7 413.3,1008.0 413.9,1010.1 414.5,1009.7 415.1,1009.4 415.7,1008.2 416.3,1008.2 416.9,1006.6 417.5,1007.9 418.1,1011.3 418.7,1008.7 419.3,1006.9 419.9,1008.7 420.5,1005.5 421.1,1010.8 421.7,1009.6 422.3,1008.0 422.9,1007.6 423.5,1006.9 424.1,1008.1 424.7,1008.3 425.3,1006.1 425.6,1009.2 425.9,1008.0 426.5,1006.6 427.1,1009.2 427.7,1009.5 428.3,1007.7 428.9,1007.3 429.5,1009.6 430.1,1008.1 430.7,1008.6 431.3,1010.3 431.9,1007.1 432.5,1006.1 433.1,1007.0 433.7,1007.6 434.3,1008.5 434.9,1010.0 435.5,1008.4 436.1,1011.0 436.7,1009.5 437.3,1006.2 437.9,1008.4 438.5,1009.9 439.1,1010.7 439.7,1008.4 440.3,1008.8 440.9,1012.2 441.5,1009.9 442.1,1008.0 442.7,1007.0 443.3,1008.4 443.9,1009.7 444.5,1008.0 445.1,1011.0 445.7,1008.7 446.3,1006.7 446.9,1009.9 447.5,1009.7 448.1,1009.2 448.6,1011.2 448.7,1009.0 449.3,1010.3 449.9,1008.9 450.5,1011.6 451.1,1009.9 451.7,1009.5 452.3,1010.3 452.9,1009.5 453.5,1010.1 454.1,1009.3 454.7,1010.3 455.3,1009.7 455.9,1008.8 456.5,1010.2 457.1,1010.3 457.7,1008.2 458.3,1008.9 458.9,1007.2 459.5,1009.3 460.1,1010.7 460.7,1013.0 461.3,1010.5 461.9,1011.0 462.5,1011.8 463.1,1010.9 463.7,1007.2 464.3,1008.4 464.9,1009.9 465.5,1010.0 466.1,1009.8 466.7,1008.3 467.3,1006.8 467.9,1009.6 468.0,1011.2 468.5,1009.2 469.1,1010.2 469.7,1008.9 470.3,1009.2 470.9,1008.7 471.5,1010.5 472.1,1008.5 472.7,1009.5 473.3,1010.8 473.9,1009.7 474.5,1007.9 475.1,1009.8 475.7,1009.4 476.3,1007.7 476.9,1009.0 477.5,1009.1 478.1,1010.3 478.7,1009.0 479.3,1009.5 479.9,1010.4 480.5,1007.1 481.1,1010.4 481.7,1009.8 482.3,1008.2 482.9,1009.5 483.5,1010.9 484.0,1008.8 484.1,1008.6 484.7,1011.2 485.3,1012.0 485.9,1012.6 486.5,1010.1 487.1,1008.3 487.7,1008.0 488.3,1008.9 488.9,1008.1 489.5,1009.9 490.1,1011.3 490.7,1008.4 491.3,1011.3 491.9,1008.7 492.5,1008.4 493.1,1007.5 493.7,1010.2 494.3,1009.6 494.9,1009.6 495.5,1005.7 496.1,1008.1 496.7,1009.8 497.3,1005.9 497.9,1011.6 498.5,1010.5 499.1,1011.2 499.7,1009.5 500.3,1010.8 500.9,1011.6 501.5,1013.4 502.1,1008.9 502.7,1012.3 503.3,1008.7 503.9,1009.7 504.5,1009.2 505.1,1009.4 505.7,1007.1 506.3,1008.9 506.9,1008.1 507.5,1009.2 508.1,1010.1 508.7,1010.0 509.3,1009.7 509.9,1011.7 510.5,1010.6 511.1,1010.8 511.7,1011.8 512.3,1010.1 512.9,1010.0 513.5,1010.9 514.1,1009.7 514.7,1011.6 515.3,1009.4 515.9,1009.5 516.5,1009.7 517.1,1009.5 517.7,1009.9 518.3,1009.4 518.9,1006.7 519.5,1011.0 520.1,1009.7 520.7,1010.9 521.3,1008.8 521.9,1010.6 522.5,1008.5 523.1,1011.7 523.7,1010.3 524.0,1009.5"/></g>
<path d="M108.0 1026.5v-4.2 M147.9 1026.5v-7.5 M187.8 1026.5v-4.2 M227.7 1026.5v-7.5 M267.6 1026.5v-4.2 M307.5 1026.5v-7.5 M347.4 1026.5v-4.2 M387.3 1026.5v-7.5 M427.2 1026.5v-4.2 M467.1 1026.5v-7.5 M507.0 1026.5v-4.2 M70.0 738.7h4.4 M70.0 773.5h7.8 M70.0 808.6h4.4 M70.0 843.9h7.8 M70.0 879.3h4.4 M70.0 914.5h7.8 M70.0 949.6h4.4 M70.0 984.8h7.8 M70.0 1019.6h4.4" stroke="#000" stroke-width="1.7" fill="none"/>
<rect x="70.0" y="703.2" width="453.20000000000005" height="323.29999999999995" fill="none" stroke="#000" stroke-width="2.1"/>
<polyline fill="none" stroke="#bebebe" stroke-width="13" points="686.8,771.3 690.8,772.6 694.8,773.9 698.8,775.2 702.8,776.5 706.8,777.8 710.8,779.1 714.8,780.3 718.8,781.6 722.8,782.9 726.8,784.2 730.8,785.6 734.8,786.9 738.8,788.2 742.8,789.4 746.8,790.5 750.8,791.7 754.8,793.0 758.8,794.3 762.8,795.7 766.8,797.1 770.8,798.6 774.8,800.1 778.8,801.6 782.8,803.2 786.8,804.8 790.8,806.4 794.8,808.1 798.8,809.8 802.8,811.6 806.8,813.4 810.8,815.3 814.8,817.2 818.8,819.1 822.8,821.1 826.8,823.1 830.8,825.2 834.8,827.4 838.8,829.6 842.8,831.9 846.8,834.2 850.8,836.5 854.8,838.8 858.8,841.1 862.8,843.4 866.8,845.8 870.8,848.3 874.8,850.8 878.8,853.4 882.8,856.0 886.8,858.8"/>
<circle cx="695.75" cy="771.75" r="9.2" fill="#ff0000"/>
<circle cx="842.4" cy="840" r="9.1" fill="#ff0000"/>
<path d="M674.9 1026.6v-4.2 M712.3 1026.6v-7.5 M750.3 1026.6v-4.2 M787.9 1026.6v-7.5 M825.8 1026.6v-4.2 M863.8 1026.6v-7.5 M636.6 757.2h4.6 M636.6 810.5h7.8 M636.6 864.5h4.6 M636.6 918.4h7.8 M636.6 972.6h4.6" stroke="#000" stroke-width="1.7" fill="none"/>
<path d="M636.6 1027.6499999999999V703.2H880 M635.5500000000001 1026.6H880" stroke="#000" stroke-width="2.1" fill="none"/>
<line x1="402.5" x2="456.3" y1="788.5" y2="788.5" stroke="#ff0000" stroke-width="5.3" stroke-linecap="round"/>
<line x1="402.5" x2="456.3" y1="818.2" y2="818.2" stroke="#808000" stroke-width="5.3" stroke-linecap="round"/>
<line x1="402.5" x2="456.3" y1="847.9" y2="847.9" stroke="#00ff00" stroke-width="5.3" stroke-linecap="round"/>
<line x1="402.5" x2="456.3" y1="877.4" y2="877.4" stroke="#008080" stroke-width="5.3" stroke-linecap="round"/>
<line x1="402.5" x2="456.3" y1="907.2" y2="907.2" stroke="#0000ff" stroke-width="5.3" stroke-linecap="round"/>
<path d="M286.1 795.4H305.7M296.1 795.4V775.8" stroke="#000" stroke-width="1.7" fill="none"/>
<g id="txt" filter="url(#soft)" stroke="#000" stroke-width="0.4" stroke-linejoin="round">
<text transform="translate(81.0 743.8) scale(1 0.96)" font-size="35.8" stroke-width="0.2" text-anchor="start" xml:space="preserve">(a)</text>
<text transform="translate(155.6 746.0) scale(1 1.02)" font-size="31.5" stroke-width="0.2" text-anchor="start" xml:space="preserve">NiPS</text>
<text transform="translate(226.5 756.8) scale(1 1.0)" font-size="18.8" stroke-width="0.4" text-anchor="start" xml:space="preserve">3</text>
<text transform="translate(253.6 745.6) scale(1 1.02)" font-size="32" stroke-width="0.2" text-anchor="start" textLength="166.4" lengthAdjust="spacingAndGlyphs" xml:space="preserve">633 nm  5 K</text>
<text transform="translate(255.0 796.4) scale(1 0.95)" font-size="31" stroke-width="0.2" text-anchor="start" xml:space="preserve">e</text>
<text transform="translate(273.0 806.9) scale(1 0.98)" font-size="18.8" stroke-width="0.4" text-anchor="start" xml:space="preserve">i</text>
<text transform="translate(314.8 796.4) scale(1 0.95)" font-size="31" stroke-width="0.2" text-anchor="start" xml:space="preserve">e</text>
<text transform="translate(332.0 806.9) scale(1 0.98)" font-size="18.8" stroke-width="0.4" text-anchor="start" xml:space="preserve">s</text>
<text transform="translate(508.2 767.5) scale(1 1.04)" font-size="23.6" stroke-width="0.4" text-anchor="end" xml:space="preserve">GPa</text>
<text transform="translate(509.2 796.7) scale(1 1.03)" font-size="24" stroke-width="0.4" text-anchor="end" xml:space="preserve">3.9</text>
<text transform="translate(509.2 826.2) scale(1 1.03)" font-size="24" stroke-width="0.4" text-anchor="end" xml:space="preserve">9.6</text>
<text transform="translate(509.2 856.0) scale(1 1.03)" font-size="24" stroke-width="0.4" text-anchor="end" xml:space="preserve">17.3</text>
<text transform="translate(509.2 885.7) scale(1 1.03)" font-size="24" stroke-width="0.4" text-anchor="end" xml:space="preserve">22.2</text>
<text transform="translate(509.2 915.4) scale(1 1.03)" font-size="24" stroke-width="0.4" text-anchor="end" xml:space="preserve">26.9</text>
<text transform="translate(147.4 1052.8) scale(1 1.03)" font-size="24" stroke-width="0.4" text-anchor="middle" xml:space="preserve">200</text>
<text transform="translate(227.2 1052.8) scale(1 1.03)" font-size="24" stroke-width="0.4" text-anchor="middle" xml:space="preserve">400</text>
<text transform="translate(307.0 1052.8) scale(1 1.03)" font-size="24" stroke-width="0.4" text-anchor="middle" xml:space="preserve">600</text>
<text transform="translate(386.8 1052.8) scale(1 1.03)" font-size="24" stroke-width="0.4" text-anchor="middle" xml:space="preserve">800</text>
<text transform="translate(466.6 1052.8) scale(1 1.03)" font-size="24" stroke-width="0.4" text-anchor="middle" xml:space="preserve">1000</text>
<text transform="translate(153.8 1097.3) scale(1 1.02)" font-size="34.5" stroke-width="0.2" text-anchor="start" xml:space="preserve">Raman Shift (cm</text>
<text transform="translate(410.6 1080.5) scale(1 1.02)" font-size="19.5" stroke-width="0.4" text-anchor="start" xml:space="preserve">-1</text>
<text transform="translate(429.4 1097.3) scale(1 1.02)" font-size="34.5" stroke-width="0.2" text-anchor="start" xml:space="preserve">)</text>
<text transform="translate(46.2 1018.8) rotate(-90) scale(1 1.02)" font-size="34.5" stroke-width="0.2" text-anchor="start" xml:space="preserve">Intensity (arb.units)</text>
<text transform="translate(646.6 743.7) scale(1 0.96)" font-size="35.8" stroke-width="0.2" text-anchor="start" xml:space="preserve">(b)</text>
<text transform="translate(819.0 744.6) scale(1 1.02)" font-size="32" stroke-width="0.2" text-anchor="start" xml:space="preserve">two-magnon</text>
<text transform="translate(611.2 994.0) rotate(-90) scale(1 1.02)" font-size="34.5" stroke-width="0.2" text-anchor="start" xml:space="preserve">Area (arb.units)</text>
<text transform="translate(636.5 1052.9) scale(1 1.03)" font-size="24" stroke-width="0.4" text-anchor="middle" xml:space="preserve">0</text>
<text transform="translate(712.3 1052.9) scale(1 1.03)" font-size="24" stroke-width="0.4" text-anchor="middle" xml:space="preserve">5</text>
<text transform="translate(788.2 1052.9) scale(1 1.03)" font-size="24" stroke-width="0.4" text-anchor="middle" xml:space="preserve">10</text>
<text transform="translate(864.0 1052.9) scale(1 1.03)" font-size="24" stroke-width="0.4" text-anchor="middle" xml:space="preserve">15</text>
<text transform="translate(744.8 1100.3) scale(1 1.02)" font-size="34.5" stroke-width="0.2" text-anchor="start" xml:space="preserve">Pressure (GPa)</text>
</g>
</svg>
</body></html>
